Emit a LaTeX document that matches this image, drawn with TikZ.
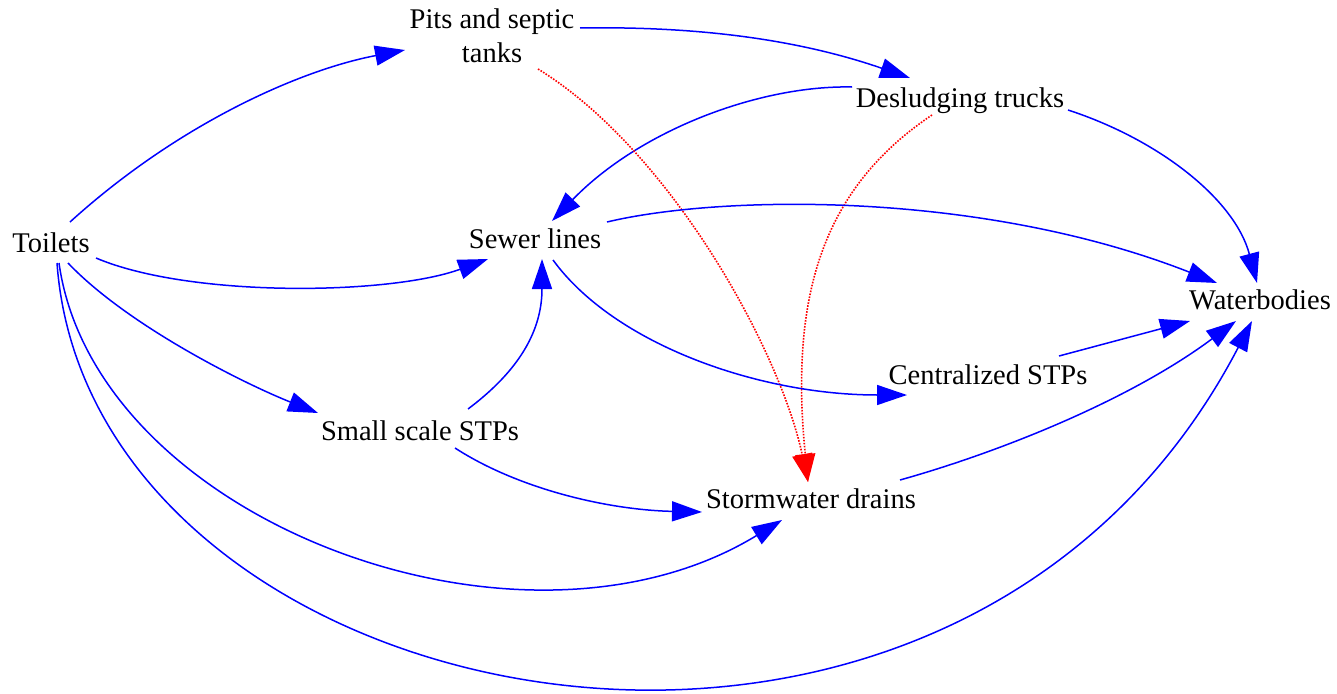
\documentclass[tikz,border=0pt]{standalone}
\usepackage{fontspec}
\setmainfont{Liberation Serif}
\usetikzlibrary{arrows.meta,calc}
\begin{document}
\begin{tikzpicture}[x=1pt,y=-1pt,
  lbl/.style={inner sep=0pt, anchor=base, font=\fontsize{28.5}{34}\selectfont},
  flow/.style={draw=blue, line width=1.5pt, -{Triangle[length=30pt,width=20pt]}},
  leak/.style={draw=red, line width=1.6pt, dash pattern=on 1.6pt off 1.4pt, -{Triangle[length=28pt,width=20pt]}}]
\useasboundingbox (0,0) rectangle (1337,693);

% sanitation chain nodes
\node[lbl] (toilets) at (51,252) {Toilets};
\node[lbl, anchor=center, align=center] (pits) at (492,36) {Pits and septic\\tanks};
\node[lbl] (trucks) at (960,107) {Desludging trucks};
\node[lbl] (sewer) at (535,248) {Sewer lines};
\node[lbl] (water) at (1260,309) {Waterbodies};
\node[lbl] (small) at (420,440) {Small scale STPs};
\node[lbl] (central) at (988,384) {Centralized STPs};
\node[lbl] (storm) at (811,508) {Stormwater drains};

% flows out of toilets
\draw[flow] ($(toilets.base)+(19,-30)$) .. controls (178,124) and (300,70) .. ($(pits.center)+(-87,14)$);
\draw[flow] ($(toilets.base)+(45,6)$) .. controls (190,298) and (390,295) .. ($(sewer.base)+(-47,11)$);
\draw[flow] ($(toilets.base)+(17,11)$) .. controls (128,326) and (245,384) .. ($(small.base)+(-102,-27)$);
\draw[flow] ($(toilets.base)+(8,11)$) .. controls (95,520) and (520,680) .. ($(storm.base)+(-29,12)$);
\draw[flow] ($(toilets.base)+(6,11)$) .. controls (90,720) and (950,900) .. ($(water.base)+(-8,12)$);

% on-site storage and emptying
\draw[flow] ($(pits.center)+(88,-8)$) .. controls (700,26) and (800,40) .. ($(trucks.base)+(-50,-29)$);
\draw[flow] ($(trucks.base)+(-108,-20)$) .. controls (760,85) and (640,130) .. ($(sewer.base)+(17,-27)$);
\draw[flow] ($(trucks.base)+(108,3)$) .. controls (1160,140) and (1235,200) .. ($(water.base)+(-3,-26)$);

% illegal dumping into drains
\draw[leak] ($(pits.center)+(46,33)$) .. controls (670,150) and (780,350) .. ($(storm.base)+(-3,-26)$);
\draw[leak] ($(trucks.base)+(-28,8)$) .. controls (820,190) and (790,300) .. ($(storm.base)+(-3,-26)$);

% networks and treatment
\draw[flow] ($(sewer.base)+(72,-26)$) .. controls (720,195) and (980,190) .. ($(water.base)+(-43,-26)$);
\draw[flow] ($(sewer.base)+(18,12)$) .. controls (615,345) and (760,395) .. ($(central.base)+(-81,11)$);
\draw[flow] ($(small.base)+(48,-31)$) .. controls (520,370) and (542,330) .. ($(sewer.base)+(7,11)$);
\draw[flow] ($(small.base)+(35,8)$) .. controls (520,490) and (610,510) .. ($(storm.base)+(-109,4)$);
\draw[flow] ($(central.base)+(71,-28)$) -- ($(water.base)+(-70,12)$);
\draw[flow] ($(storm.base)+(89,-28)$) .. controls (1000,452) and (1130,400) .. ($(water.base)+(-24,12)$);
\end{tikzpicture}
\end{document}
